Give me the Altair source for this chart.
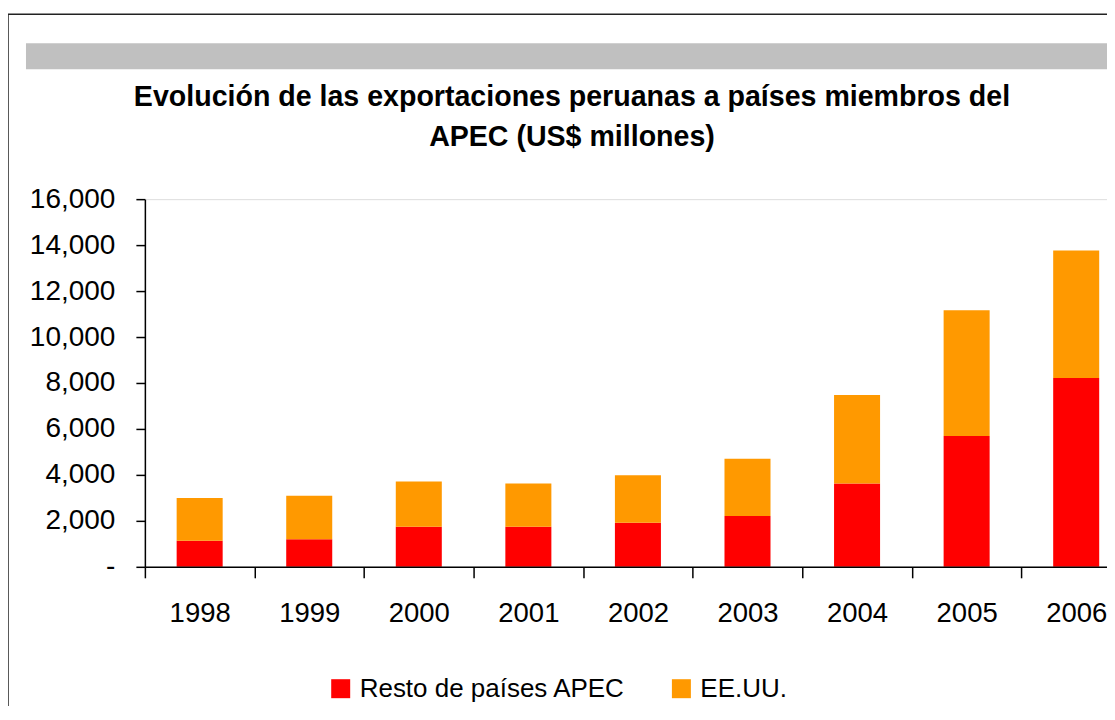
import altair as alt
import pandas as pd

years = ["1998", "1999", "2000", "2001", "2002", "2003", "2004", "2005", "2006"]
resto = [1130, 1200, 1740, 1740, 1920, 2210, 3630, 5690, 8220]
eeuu = [1860, 1890, 1975, 1890, 2060, 2490, 3850, 5470, 5540]
series = ["Resto de países APEC", "EE.UU."]
colors = ["#FF0000", "#FF9900"]
y_ticks = [0, 2000, 4000, 6000, 8000, 10000, 12000, 14000, 16000]
title_lines = ["Evolución de las exportaciones peruanas a países miembros del",
               "APEC (US$ millones)"]

rows = []
for i, yr in enumerate(years):
    rows.append({"year": yr, "serie": series[0], "value": resto[i], "ord": 0})
    rows.append({"year": yr, "serie": series[1], "value": eeuu[i], "ord": 1})
df = pd.DataFrame(rows)

FONT = "Liberation Sans"
one = pd.DataFrame({"k": [0]})

frame = alt.Chart(one).mark_rect(fillOpacity=0, stroke="#222222", strokeWidth=1.5).encode(
    x=alt.value(-137), x2=alt.value(1500), y=alt.value(-185), y2=alt.value(1000)
)
band = alt.Chart(one).mark_rect(color="#C0C0C0").encode(
    x=alt.value(-119), x2=alt.value(1500), y=alt.value(-156), y2=alt.value(-130)
)

bars = alt.Chart(df).mark_bar(width=alt.RelativeBandSize(0.42)).encode(
    x=alt.X("year:N", sort=years,
            scale=alt.Scale(range=[0, 987], paddingInner=0, paddingOuter=0),
            axis=alt.Axis(title=None, labelAngle=0, tickBand="extent", zindex=1,
                          domainColor="black", domainWidth=1.5,
                          tickColor="black", tickWidth=1.5, tickSize=11,
                          labelFont=FONT, labelFontSize=27.5, labelColor="black",
                          labelPadding=22)),
    y=alt.Y("value:Q", stack="zero",
            scale=alt.Scale(domain=[0, 16000], nice=False),
            axis=alt.Axis(title=None, values=y_ticks, grid=False, zindex=1,
                          labelExpr="datum.value == 0 ? '-' : format(datum.value, ',')",
                          domainColor="black", domainWidth=1.5,
                          tickColor="black", tickWidth=1.5, tickSize=9,
                          labelFont=FONT, labelFontSize=28, labelColor="black",
                          labelPadding=21)),
    color=alt.Color("serie:N", scale=alt.Scale(domain=series, range=colors),
                    legend=alt.Legend(title=None, orient="none", legendX=183, legendY=477,
                                      direction="horizontal", symbolType="square",
                                      symbolSize=361, symbolStrokeWidth=0, symbolOpacity=1,
                                      labelFont=FONT, labelFontSize=26, labelColor="black",
                                      labelOffset=6, columnPadding=43, padding=0,
                                      labelLimit=0)),
    order=alt.Order("ord:Q", sort="ascending"),
)

t1 = alt.Chart(one).mark_text(text=title_lines[0], font=FONT, fontSize=28.6, fontWeight="bold",
                              align="center", baseline="middle", color="black").encode(
    x=alt.value(427.5), y=alt.value(-102))
t2 = alt.Chart(one).mark_text(text=title_lines[1], font=FONT, fontSize=28.6, fontWeight="bold",
                              align="center", baseline="middle", color="black").encode(
    x=alt.value(427.5), y=alt.value(-62))

chart = alt.layer(frame, band, bars, t1, t2).properties(
    width=963, height=368,
    autosize=alt.AutoSizeParams(type="none"),
    padding={"left": 137, "top": 191, "right": 0, "bottom": 139},
).configure_view(stroke=None).configure(background="white")

chart.save("out.html", embed_options={"renderer": "svg", "actions": False})
